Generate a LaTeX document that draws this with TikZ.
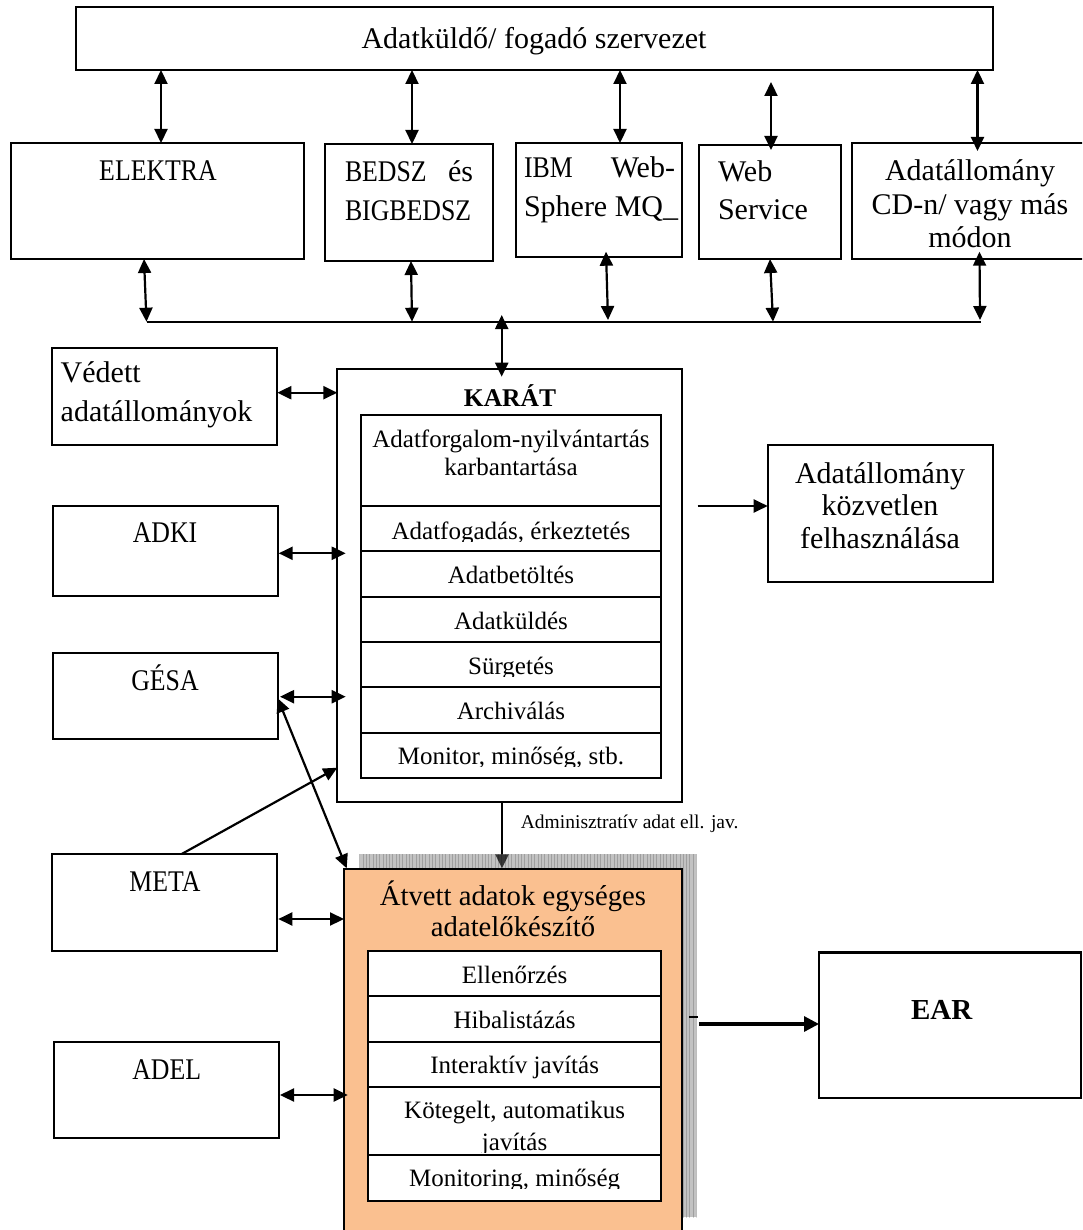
\documentclass[tikz,border=0pt]{standalone}
\usepackage{fontspec}
\setmainfont{Liberation Serif}
\newfontfamily\capsfont[FakeStretch=0.86]{Liberation Serif}
\usetikzlibrary{arrows.meta,calc}
\pgfdeclarelayer{bg}
\pgfdeclarelayer{back}
\pgfsetlayers{bg,back,main}
\definecolor{orangefill}{HTML}{FAC090}
\definecolor{shadowgray}{RGB}{120,120,120}
\newcommand\fbig{\fontsize{30}{36}\selectfont}
\newcommand\fcaps{\capsfont\fontsize{30}{36}\selectfont}
\newcommand\ftitle{\fontsize{28.7}{34}\selectfont}
\newcommand\fmid{\fontsize{25}{30}\selectfont}
\newcommand\fsml{\fontsize{19.5}{23}\selectfont}
% text of a table row whose lower part is cut off
\newcommand\clippedtext[5]{%
  \begin{scope}
    \clip (#2-200,#3-40) rectangle (#2+200,#4);
    \node[celltxt] (#1) at (#2,#3) {#5};
  \end{scope}}

\begin{document}
\begin{tikzpicture}[x=1pt,y=-1pt,
  box/.style={draw, line width=2pt, fill=white, inner sep=0pt, outer sep=0pt, anchor=north west},
  lbl/.style={inner sep=0pt, outer sep=0pt, font=\fbig, anchor=base},
  lblw/.style={lbl, anchor=base west},
  lble/.style={lbl, anchor=base east},
  caps/.style={font=\fcaps},
  celltxt/.style={inner sep=0pt, outer sep=0pt, font=\fmid, anchor=base},
  arr/.style={line width=2.2pt, -{Triangle[length=14pt,width=13pt]}},
  darr/.style={line width=2.2pt, {Triangle[length=14pt,width=13pt]}-{Triangle[length=14pt,width=13pt]}},
]
\useasboundingbox (0,0) rectangle (1082,1230);
\begin{pgfonlayer}{bg}
  \fill[white] (0,0) rectangle (1082,1230);
\end{pgfonlayer}
\clip (0,0) rectangle (1082,1230);

% ---------- top row ----------
\node[box, minimum width=917pt, minimum height=63pt] (org) at (76,7) {};
\node[lbl] (org-t) at (534,49) {Adatküldő/ fogadó szervezet};

\node[box, minimum width=293pt, minimum height=116pt] (elektra) at (11,143) {};
\node[lbl, caps] (elektra-t) at (158,181) {ELEKTRA};

\node[box, minimum width=168pt, minimum height=117pt] (bedsz) at (325,144) {};
\node[lblw, caps] (bedsz-t1) at (345,182) {BEDSZ};
\node[lble] (bedsz-t2) at (473,182) {és};
\node[lblw, caps] (bedsz-t3) at (345,221) {BIGBEDSZ};

\node[box, minimum width=166pt, minimum height=114pt] (ibm) at (516,143) {};
\node[lblw, caps] (ibm-t1) at (524,178) {IBM};
\node[lble] (ibm-t2) at (675,178) {Web-};
\node[lblw] (ibm-t3) at (524,217) {Sphere MQ\_};

\node[box, minimum width=142pt, minimum height=114pt] (web) at (699,145) {};
\node[lblw] (web-t1) at (718,182) {Web};
\node[lblw] (web-t2) at (718,220) {Service};

\node[box, minimum width=236pt, minimum height=116pt] (adat) at (852,143) {};
\node[lbl] (adat-t1) at (970,181) {Adatállomány};
\node[lbl] (adat-t2) at (970,215) {CD-n/ vagy más};
\node[lbl] (adat-t3) at (970,248) {módon};

% ---------- left column ----------
\node[box, minimum width=225.6pt, minimum height=97.3pt] (vedett) at (51.7,347.7) {};
\node[lblw] (vedett-t1) at (60.7,382.7) {Védett};
\node[lblw] (vedett-t2) at (60.7,421.7) {adatállományok};

\node[box, minimum width=225pt, minimum height=90.3pt] (adki) at (52.7,505.7) {};
\node[lbl, caps] (adki-t) at (165,542.7) {ADKI};

\node[box, minimum width=225pt, minimum height=86pt] (gesa) at (52.7,653.3) {};
\node[lbl, caps] (gesa-t) at (165,690.7) {GÉSA};

\node[box, minimum width=225.6pt, minimum height=97pt] (meta) at (51.7,854) {};
\node[lbl, caps] (meta-t) at (165,891.7) {META};

\node[box, minimum width=225.3pt, minimum height=96.6pt] (adel) at (54,1041.7) {};
\node[lbl, caps] (adel-t) at (166.7,1079.3) {ADEL};

% ---------- KARÁT ----------
\node[box, minimum width=344.4pt, minimum height=432.4pt] (karat) at (337.3,369.3) {};
\node[inner sep=0pt, font=\bfseries\fontsize{25.5}{30}\selectfont, anchor=base] (karat-t) at (510,406.7) {KARÁT};

\node[box, minimum width=300pt, minimum height=90.7pt] (k1) at (361,415) {};
\node[box, minimum width=300pt, minimum height=45.3pt] (k2) at (361,505.7) {};
\node[box, minimum width=300pt, minimum height=45.7pt] (k3) at (361,551) {};
\node[box, minimum width=300pt, minimum height=45.3pt] (k4) at (361,596.7) {};
\node[box, minimum width=300pt, minimum height=45.3pt] (k5) at (361,642) {};
\node[box, minimum width=300pt, minimum height=45.4pt] (k6) at (361,687.3) {};
\node[box, minimum width=300pt, minimum height=45pt] (k7) at (361,732.7) {};

\node[celltxt] (k1-t1) at (511,447.3) {Adatforgalom-nyilvántartás};
\node[celltxt] (k1-t2) at (511,475) {karbantartása};
\clippedtext{k2-t}{511}{539}{541}{Adatfogadás, érkeztetés}
\node[celltxt] (k3-t) at (511,583.3) {Adatbetöltés};
\node[celltxt] (k4-t) at (511,629.3) {Adatküldés};
\clippedtext{k5-t}{511}{674.3}{676.3}{Sürgetés}
\node[celltxt] (k6-t) at (511,719.3) {Archiválás};
\clippedtext{k7-t}{511}{764}{766}{Monitor, minőség, stb.}

% ---------- right side ----------
\node[box, minimum width=225pt, minimum height=136.7pt] (kozv) at (767.7,445) {};
\node[lbl] (kozv-t1) at (880,483) {Adatállomány};
\node[lbl] (kozv-t2) at (880,515) {közvetlen};
\node[lbl] (kozv-t3) at (880,548) {felhasználása};

\node[box, line width=2.8pt, minimum width=262pt, minimum height=145.7pt] (ear) at (819,952.3) {};
\node[inner sep=0pt, font=\bfseries\fontsize{29}{34}\selectfont, anchor=base] (ear-t) at (941.7,1019.3) {EAR};

% ---------- Átvett adatok egységes adatelőkészítő ----------
% hatched drop shadow, semi-transparent so the arrow tip shows through
\begin{scope}
  \clip (359.3,854) rectangle (696.7,1217.3);
  \fill[shadowgray, fill opacity=0.45] (359.3,854) rectangle (696.7,1217.3);
  \draw[black, opacity=0.18, line width=0.6pt, step=3.3] (357,850) grid (700,1220);
\end{scope}
\node[box, fill=orangefill, minimum width=337.7pt, minimum height=380pt] (atvett) at (344,869.3) {};
\node[lbl, font=\ftitle] (atvett-t1) at (513,905) {Átvett adatok egységes};
\node[lbl, font=\ftitle] (atvett-t2) at (513,936.7) {adatelőkészítő};

\node[box, minimum width=292.7pt, minimum height=45pt] (a1) at (368.3,951) {};
\node[box, minimum width=292.7pt, minimum height=45.7pt] (a2) at (368.3,996) {};
\node[box, minimum width=292.7pt, minimum height=45pt] (a3) at (368.3,1041.7) {};
\node[box, minimum width=292.7pt, minimum height=68.3pt] (a4) at (368.3,1086.7) {};
\node[box, minimum width=292.7pt, minimum height=45.7pt] (a5) at (368.3,1155) {};

\node[celltxt] (a1-t) at (514.6,983.3) {Ellenőrzés};
\node[celltxt] (a2-t) at (514.6,1028) {Hibalistázás};
\node[celltxt] (a3-t) at (514.6,1073) {Interaktív javítás};
\node[celltxt] (a4-t1) at (514.6,1118) {Kötegelt, automatikus};
\clippedtext{a4-t2}{514.6}{1150.7}{1152.7}{javítás}
\clippedtext{a5-t}{514.6}{1186.7}{1188.7}{Monitoring, minőség}

% ---------- connectors ----------
% organisation <-> channels
\draw[darr] ($(org.south west)+(85,0)$) -- ($(elektra.north west)+(150,0)$);
\draw[darr] ($(org.south west)+(336,0)$) -- ($(bedsz.north west)+(87,0)$);
\draw[darr] ($(org.south west)+(544,0)$) -- ($(ibm.north west)+(104,0)$);
\coordinate (webfree) at (771,82);
\draw[darr] (webfree) -- ($(web.north west)+(72,5)$);
\draw[darr] ($(org.south west)+(901.5,0)$) -- ($(adat.north west)+(125.5,8)$);

% channels <-> common line
\coordinate (busL) at (146.5,321.7);
\coordinate (busR) at (981,321.7);
\draw[line width=1.8pt] (busL) -- (busR);
\draw[darr] ($(elektra.south west)+(133,0)$) -- (busL);
\draw[darr] ($(bedsz.south west)+(86,0)$) -- ($(busL)+(265.5,0)$);
\draw[darr] ($(ibm.south west)+(90,-5.3)$) -- ($(busL)+(461.5,-1.7)$);
\draw[darr] ($(web.south west)+(71,0)$) -- ($(busL)+(626.5,0)$);
\draw[darr] ($(adat.south west)+(127.5,-7.3)$) -- ($(busL)+(833.5,-1.7)$);
\draw[darr] ($(busL)+(355.2,-6.7)$) -- ($(karat.north west)+(164.4,7.4)$);

% left systems
\draw[darr] ($(vedett.north east)+(0,45)$) -- ($(karat.north west)+(0,23.4)$);
\draw[darr] ($(adki.north east)+(1,47.6)$) -- ($(karat.north west)+(8.4,184)$);
\draw[darr] ($(gesa.north east)+(2.3,43.4)$) -- ($(karat.north west)+(8.4,327.4)$);
\draw[darr] ($(gesa.north east)+(0,45)$) -- ($(atvett.north west)+(2.7,-1)$);
\draw[arr] ($(meta.north west)+(130,0)$) -- ($(karat.north west)+(0,398.4)$);
\draw[darr] ($(meta.north east)+(1,65)$) -- ($(atvett.north west)+(0,49.7)$);
\draw[darr] ($(adel.north east)+(0.7,53.3)$) -- ($(atvett.north west)+(3.7,225.7)$);

% KARÁT -> Átvett, passing under the shadow
\begin{pgfonlayer}{back}
  \draw[arr] ($(karat.south west)+(164.7,0)$) -- ($(atvett.north west)+(158,-1)$);
\end{pgfonlayer}
\begin{scope}
  \clip (500,800) rectangle (748,840);
  \node[inner sep=0pt, font=\fsml, anchor=base west] (admin) at (520.7,828) {Adminisztratív adat ell. jav.};
\end{scope}

% outputs on the right
\coordinate (kfree) at (697.7,506);
\draw[arr] (kfree) -- (kozv.north west |- kfree);
\coordinate (tickA) at (689,1016.7);
\coordinate (tickB) at (698,1016.7);
\draw[line width=1.8pt] (tickA) -- (tickB);
\coordinate (earfree) at (699.3,1024);
\draw[line width=3.2pt, -{Triangle[length=15pt,width=15pt]}] (earfree) -- (ear.north west |- earfree);
\end{tikzpicture}
\end{document}
